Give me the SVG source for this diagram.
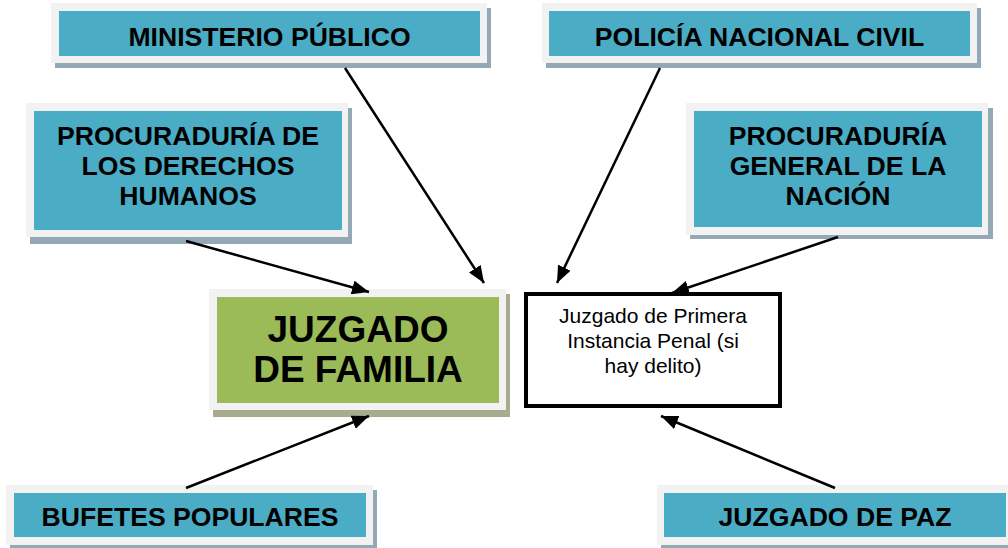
<svg xmlns="http://www.w3.org/2000/svg" width="1008" height="548" viewBox="0 0 1008 548">
<style>
.shadow{fill:#94a9b6}
.gshadow{fill:#a8ac8e}
.frame{fill:#f2f2f2}
.teal{fill:#4bacc6}
.green{fill:#9bbb59}
.lbl{font-family:"Liberation Sans",Arial,sans-serif;font-weight:bold;font-size:26.6px;fill:#000;text-anchor:middle}
.big{font-family:"Liberation Sans",Arial,sans-serif;font-weight:bold;font-size:37px;fill:#000;text-anchor:middle}
.small{font-family:"Liberation Sans",Arial,sans-serif;font-size:21px;fill:#000;text-anchor:middle}
.conn{stroke:#000;stroke-width:2.5;fill:none;marker-end:url(#ah)}
</style>
<defs>
<marker id="ah" markerUnits="userSpaceOnUse" markerWidth="17" markerHeight="14" refX="17" refY="7" orient="auto">
<path d="M0,0 L17,7 L0,14 z" fill="#000"/>
</marker>
</defs>
<rect width="1008" height="548" fill="#fff"/>
<g id="ministerio">
<rect class="shadow" x="55" y="8" width="436" height="60"/>
<rect class="frame" x="51" y="3" width="436" height="60"/>
<rect class="teal" x="59" y="11" width="421" height="45"/>
<text class="lbl" x="269.5" y="46">MINISTERIO PÚBLICO</text>
</g>
<g id="policia">
<rect class="shadow" x="546" y="8" width="435" height="60"/>
<rect class="frame" x="542" y="3" width="435" height="60"/>
<rect class="teal" x="549" y="11" width="421" height="45"/>
<text class="lbl" x="759.5" y="46">POLICÍA NACIONAL CIVIL</text>
</g>
<g id="pdh">
<rect class="shadow" x="30" y="108" width="322" height="136"/>
<rect class="frame" x="26" y="103" width="322" height="134"/>
<rect class="teal" x="34" y="111" width="308" height="119"/>
<text class="lbl" x="188" y="145">PROCURADURÍA DE</text>
<text class="lbl" x="188" y="175">LOS DERECHOS</text>
<text class="lbl" x="188" y="205">HUMANOS</text>
</g>
<g id="pgn">
<rect class="shadow" x="690" y="108" width="303" height="131"/>
<rect class="frame" x="686" y="103" width="302" height="132"/>
<rect class="teal" x="694" y="111" width="288" height="116"/>
<text class="lbl" x="838" y="145">PROCURADURÍA</text>
<text class="lbl" x="838" y="175">GENERAL DE LA</text>
<text class="lbl" x="838" y="205">NACIÓN</text>
</g>
<g id="familia">
<rect class="gshadow" x="213" y="294" width="297" height="123"/>
<rect class="frame" x="209" y="289" width="297" height="121"/>
<rect class="green" x="217" y="297" width="282" height="106"/>
<text class="big" x="358" y="342">JUZGADO</text>
<text class="big" x="358" y="382">DE FAMILIA</text>
</g>
<g id="penal">
<rect x="526" y="294" width="254" height="112" fill="#fff" stroke="#000" stroke-width="4"/>
<text class="small" x="653" y="323">Juzgado de Primera</text>
<text class="small" x="653" y="348">Instancia Penal (si</text>
<text class="small" x="653" y="373">hay delito)</text>
</g>
<g id="bufetes">
<rect class="shadow" x="10" y="490" width="367" height="58"/>
<rect class="frame" x="6" y="485" width="367" height="60"/>
<rect class="teal" x="14" y="493" width="352" height="44"/>
<text class="lbl" x="190" y="526">BUFETES POPULARES</text>
</g>
<g id="paz">
<rect class="shadow" x="661" y="490" width="356" height="58"/>
<rect class="frame" x="657" y="485" width="356" height="60"/>
<rect class="teal" x="664" y="493" width="342" height="44"/>
<text class="lbl" x="835" y="526">JUZGADO DE PAZ</text>
</g>
<g id="connectors">
<line class="conn" x1="345" y1="68" x2="484" y2="283"/>
<line class="conn" x1="660" y1="68" x2="557" y2="283"/>
<line class="conn" x1="186" y1="241" x2="369" y2="292"/>
<line class="conn" x1="838" y1="237" x2="672" y2="293"/>
<line class="conn" x1="186" y1="488" x2="369" y2="416"/>
<line class="conn" x1="835" y1="488" x2="661" y2="416"/>
</g>
</svg>
